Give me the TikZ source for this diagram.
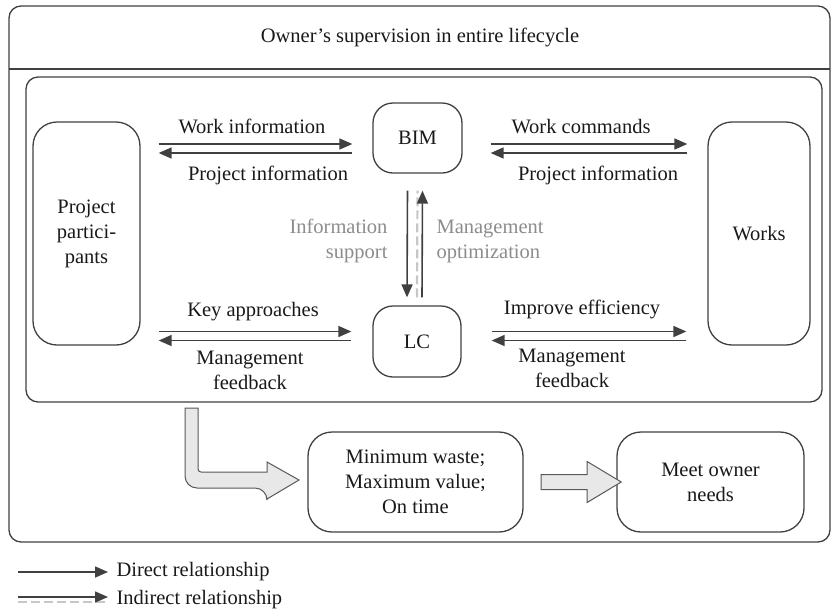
\documentclass[tikz,border=0pt]{standalone}
\usepackage{fontspec}
\setmainfont{Liberation Serif}
\usetikzlibrary{calc,arrows.meta,shapes.arrows}

\tikzset{
  txt/.style={font=\fontsize{20.5}{25}\selectfont,text=black!90,align=center},
  graytxt/.style={txt,text=black!45},
  blk/.style={txt,draw=black!75,line width=1.3pt,rounded corners=20pt},
  frame/.style={draw=black!75,line width=1.3pt,rounded corners=12pt},
  rel/.style={draw=black!75,line width=1.6pt,-{Triangle[length=13pt,width=11pt]}},
  indrel/.style={rel,preaction={draw=black!22,line width=2.2pt,dash pattern=on 9pt off 4pt,-,transform canvas={#1}}},
  hollow/.style={draw=black!65,line width=1pt,fill=black!9},
}

\begin{document}
\begin{tikzpicture}[x=1pt,y=-1pt]
  \useasboundingbox (0,0) rectangle (836,614);

  % frames
  \draw[frame] (9,6) rectangle (830,542);
  \draw[black!75,line width=1.3pt] (9,69) -- (830,69);
  \draw[frame] (26,77) rectangle (822,402);
  \node[txt] (title) at (420,37) {Owner’s supervision in entire lifecycle};

  % blocks
  \node[blk,minimum width=107pt,minimum height=223pt,rounded corners=24pt] (pp) at (86.5,233.5) {Project\\partici-\\pants};
  \node[blk,minimum width=102pt,minimum height=223pt,rounded corners=24pt] (works) at (759,233.5) {Works};
  \node[blk,minimum width=89pt,minimum height=70pt] (bim) at (417.5,138) {BIM};
  \node[blk,minimum width=88pt,minimum height=71pt] (lc) at (417,341.5) {LC};
  \node[blk,minimum width=215pt,minimum height=100pt,rounded corners=24pt] (goal) at (415.5,482) {Minimum waste;\\Maximum value;\\On time};
  \node[blk,minimum width=187pt,minimum height=100pt,rounded corners=24pt] (needs) at (710.5,482) {Meet owner\\needs};

  % participants <-> BIM
  \draw[rel] ($(pp.east|-bim.west)+(18,6)$) -- ($(bim.west)+(-20,6)$);
  \draw[rel] ($(bim.west)+(-20,15)$) -- ($(pp.east|-bim.west)+(18,15)$);
  \node[txt] (wi) at (252,126) {Work information};
  \node[txt] (pi1) at (268,175) {Project information};

  % BIM <-> works
  \draw[rel] ($(bim.east)+(28,6)$) -- ($(works.west|-bim.east)+(-20,6)$);
  \draw[rel] ($(works.west|-bim.east)+(-20,15)$) -- ($(bim.east)+(28,15)$);
  \node[txt] (wc) at (581,127) {Work commands};
  \node[txt] (pi2) at (598,175) {Project information};

  % participants <-> LC
  \draw[rel] ($(pp.east|-lc.west)+(18,-10)$) -- ($(lc.west)+(-21,-10)$);
  \draw[rel] ($(lc.west)+(-21,-1)$) -- ($(pp.east|-lc.west)+(18,-1)$);
  \node[txt] (ka) at (253,312) {Key approaches};
  \node[txt] (mf1) at (250,370) {Management\\feedback};

  % LC <-> works
  \draw[rel] ($(lc.east)+(30,-10)$) -- ($(works.west|-lc.east)+(-21,-10)$);
  \draw[rel] ($(works.west|-lc.east)+(-21,-1)$) -- ($(lc.east)+(30,-1)$);
  \node[txt] (ie) at (582,309) {Improve efficiency};
  \node[txt] (mf2) at (572,368) {Management\\feedback};

  % BIM <-> LC
  \draw[rel] ($(bim.south)+(-10,17)$) -- ($(lc.north)+(-10,-8)$);
  \draw[indrel={xshift=-5pt}] ($(lc.north)+(5,-8)$) -- ($(bim.south)+(5,17)$);
  \node[graytxt,anchor=east,align=right] (is) at (391,241) {Information\\support};
  \node[graytxt,anchor=west,align=left] (mo) at (433,241) {Management\\optimization};

  % block arrows
  \draw[hollow] (185,408) [rounded corners=12pt] -- (185,488) -- (267,488) [sharp corners]
    -- (267,499) -- (299,480) -- (267,462) -- (267,472) [rounded corners=3pt] -- (198,472) [sharp corners] -- (198,408) -- cycle;
  \node[hollow,single arrow,single arrow head extend=13pt,single arrow tip angle=62,
    inner sep=7pt,minimum height=80pt,shape border rotate=0] (step1) at ($(goal.east)!0.5!(needs.west)+(5,0)$) {};

  % legend
  \coordinate (d0) at (18,572);
  \node[txt,anchor=west] (ldir) at (113,572) {Direct relationship};
  \draw[rel] (d0) -- ([xshift=-5pt]ldir.west);
  \coordinate (i0) at (18,597);
  \node[txt,anchor=west] (lind) at (113,600) {Indirect relationship};
  \draw[indrel={yshift=-5pt}] (i0) -- ([xshift=-5pt]lind.west|-i0);
\end{tikzpicture}
\end{document}
